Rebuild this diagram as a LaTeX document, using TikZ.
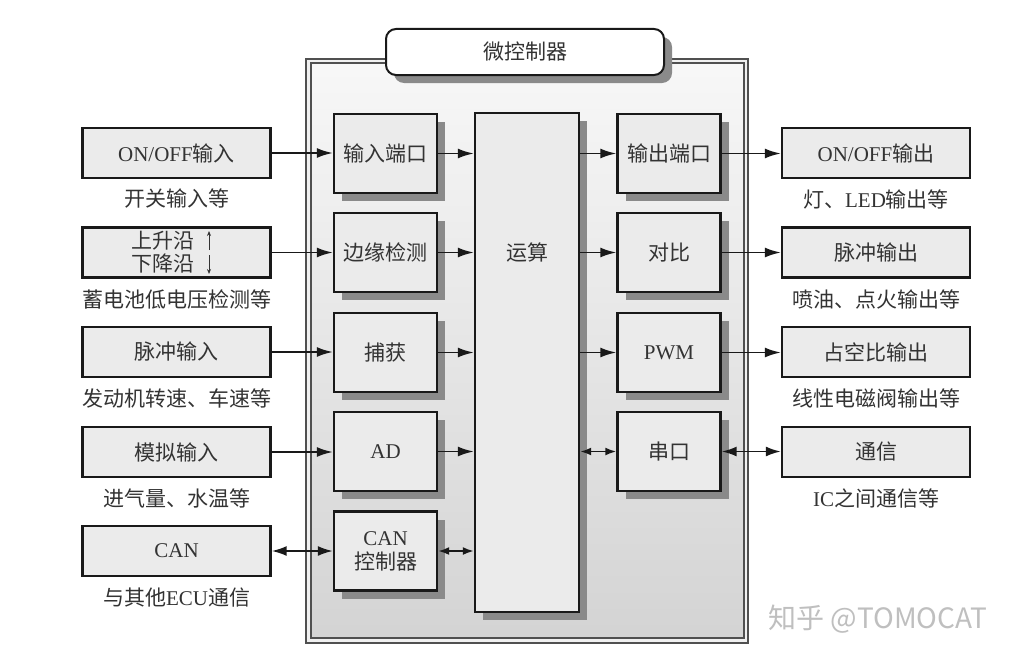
\documentclass[tikz,border=0pt]{standalone}
\usepackage{fontspec}
\setmainfont{Liberation Serif}
\newfontfamily\zhf{Noto Sans CJK SC}
\usetikzlibrary{arrows.meta,shadows,calc}
\newcommand\zh[1]{{\zhf #1}}
\newcommand\fsz{\fontsize{21}{24}\selectfont}
\definecolor{boxfill}{HTML}{EBEBEB}
\definecolor{txt}{HTML}{333333}
\definecolor{shad}{HTML}{8A8A8A}
\definecolor{frame}{HTML}{505050}
\tikzset{
  ext/.style={draw=black!90, line width=2.4pt, fill=boxfill, minimum width=188pt,
    minimum height=50pt, inner sep=0pt, font=\fsz, text=txt},
  inn/.style={draw=black!90, line width=2.4pt, fill=boxfill, minimum width=103pt,
    minimum height=79pt, inner sep=0pt, font=\fsz, text=txt, align=center,
    drop shadow={shadow xshift=8pt, shadow yshift=-8pt, fill=shad, opacity=1}},
  lbl/.style={font=\fsz, text=txt, inner sep=0pt},
  arr/.style={line width=1.9pt, draw=black!90, -{Latex[length=16pt,width=10pt]}},
  darr/.style={line width=1.9pt, draw=black!90, {Latex[length=15pt,width=10pt]}-{Latex[length=15pt,width=10pt]}},
  sarr/.style={line width=1.9pt, draw=black!90, {Latex[length=11pt,width=8pt]}-{Latex[length=11pt,width=8pt]}},
  thin/.style={line width=0.8pt, draw=txt, -{Stealth[length=5pt,width=4pt]}},
}
\begin{document}
\begin{tikzpicture}[x=1pt,y=-1pt]
\useasboundingbox (0,0) rectangle (1027,661);
\fill[white] (0,0) rectangle (1027,661);
% microcontroller frame
\draw[frame, line width=1.3pt, fill=black!6] (306,59) rectangle (748,643);
\draw[frame, line width=1.3pt, top color=black!3, bottom color=black!17] (311,63) rectangle (744,638);
% title
\node[draw=black!90, line width=2pt, fill=white, rounded corners=10pt, minimum width=278pt,
  minimum height=46pt, font=\fsz, text=txt,
  drop shadow={shadow xshift=8pt, shadow yshift=-8pt, fill=shad, opacity=1}]
  (T) at (525,52) {\zh{微控制器}};
% left external boxes
\node[ext] (L1) at (176.5,153) {ON/OFF\zh{输入}};
\node[ext] (L2) at (176.5,252.5) {};
\node[ext] (L3) at (176.5,352) {\zh{脉冲输入}};
\node[ext] (L4) at (176.5,452) {\zh{模拟输入}};
\node[ext] (L5) at (176.5,551) {CAN};
\node[lbl, align=center, font=\fontsize{21}{23}\selectfont] (L2t) at (163,252.5) {\zh{上升沿}\\\zh{下降沿}};
\coordinate (u1) at (209,250); \coordinate (u2) at (209,231);
\coordinate (d1) at (209,255); \coordinate (d2) at (209,274);
\draw[thin] (u1) -- (u2);
\draw[thin] (d1) -- (d2);
\node[lbl] (l1) at (176.5,199) {\zh{开关输入等}};
\node[lbl] (l2) at (176.5,299) {\zh{蓄电池低电压检测等}};
\node[lbl] (l3) at (176.5,398) {\zh{发动机转速、车速等}};
\node[lbl] (l4) at (176.5,498) {\zh{进气量、水温等}};
\node[lbl] (l5) at (176.5,598) {\zh{与其他}ECU\zh{通信}};
% left inner boxes
\node[inn] (A1) at (385.5,153.5) {\zh{输入端口}};
\node[inn] (A2) at (385.5,252.5) {\zh{边缘检测}};
\node[inn] (A3) at (385.5,352.5) {\zh{捕获}};
\node[inn] (A4) at (385.5,451.5) {AD};
\node[inn] (A5) at (385.5,551) {CAN\\\zh{控制器}};
% arithmetic
\node[inn, minimum width=104pt, minimum height=499pt] (C) at (527,362.5) {};
\node[lbl] (Ct) at (527,253) {\zh{运算}};
% right inner boxes
\node[inn] (B1) at (669,153.5) {\zh{输出端口}};
\node[inn] (B2) at (669,252.5) {\zh{对比}};
\node[inn] (B3) at (669,352.5) {PWM};
\node[inn] (B4) at (669,451.5) {\zh{串口}};
% right external boxes
\node[ext] (R1) at (876,153) {ON/OFF\zh{输出}};
\node[ext] (R2) at (876,252.5) {\zh{脉冲输出}};
\node[ext] (R3) at (876,352) {\zh{占空比输出}};
\node[ext] (R4) at (876,452) {\zh{通信}};
\node[lbl] (r1) at (876,199) {\zh{灯、}LED\zh{输出等}};
\node[lbl] (r2) at (876,299) {\zh{喷油、点火输出等}};
\node[lbl] (r3) at (876,398) {\zh{线性电磁阀输出等}};
\node[lbl] (r4) at (876,498) {IC\zh{之间通信等}};
% connectors left
\draw[arr] (L1.east) -- (L1.east -| A1.west);
\draw[arr] (L2.east) -- (L2.east -| A2.west);
\draw[arr] (L3.east) -- (L3.east -| A3.west);
\draw[arr] (L4.east) -- (L4.east -| A4.west);
\draw[darr] (L5.east) -- (L5.east -| A5.west);
\draw[arr] (A1.east) -- (A1.east -| C.west);
\draw[arr] (A2.east) -- (A2.east -| C.west);
\draw[arr] (A3.east) -- (A3.east -| C.west);
\draw[arr] (A4.east) -- (A4.east -| C.west);
\draw[sarr] (A5.east) -- (A5.east -| C.west);
% connectors right
\draw[arr] (B1.west -| C.east) -- (B1.west);
\draw[arr] (B2.west -| C.east) -- (B2.west);
\draw[arr] (B3.west -| C.east) -- (B3.west);
\draw[sarr] (B4.west -| C.east) -- (B4.west);
\draw[arr] (B1.east) -- (B1.east -| R1.west);
\draw[arr] (B2.east) -- (B2.east -| R2.west);
\draw[arr] (B3.east) -- (B3.east -| R3.west);
\draw[darr] (B4.east) -- (B4.east -| R4.west);
% watermark
\node[text=black!25, font=\zhf\fontsize{28}{32}\selectfont, inner sep=0pt] (W) at (878,619) {知乎 @TOMOCAT};
\end{tikzpicture}
\end{document}
